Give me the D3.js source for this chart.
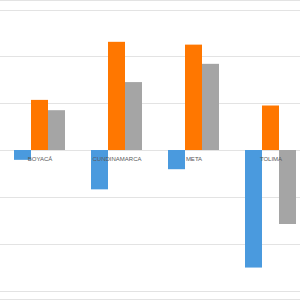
<!DOCTYPE html>
<html>
<head>
<meta charset="utf-8">
<script src="https://cdn.jsdelivr.net/npm/d3@7"></script>
<style>
  body { margin: 0; background: #fff; }
  svg { display: block; }
</style>
</head>
<body>
<div id="container"></div>
<script>
// data
let categories = ["BOYACÁ", "CUNDINAMARCA", "META", "TOLIMA"];
let seriesNames = ["serie1", "serie2", "serie3"];
let serie1 = [-2.1, -8.4, -4.1, -25.1];
let serie2 = [10.7, 23.1, 22.5, 9.5];
let serie3 = [8.5, 14.5, 18.4, -15.8];
let yTicks = [-30, -20, -10, 0, 10, 20, 30];

let colors = ["#4a9ade", "#ff7700", "#a5a5a5"];

let width = 300, height = 300;

let svg = d3.select('#container')
            .append('svg')
            .attr("width", width)
            .attr("height", height);

let x0 = d3.scaleBand()
           .domain(categories)
           .range([1, 309])
           .paddingInner(26 / 77)
           .paddingOuter(13 / 77);

let x1 = d3.scaleBand()
           .domain(seriesNames)
           .range([0, x0.bandwidth()]);

let y = d3.scaleLinear()
          .domain([-30, 30])
          .range([290.5, 9.5]);

// frame lines top and bottom
svg.selectAll('line.frame')
   .data([0.5, 299.5])
   .enter()
   .append('line')
   .attr('class', 'frame')
   .attr('x1', 0).attr('x2', width)
   .attr('y1', d => d).attr('y2', d => d)
   .attr('stroke', '#e3e3e3')
   .attr('stroke-width', 1);

// gridlines
svg.selectAll('line.grid')
   .data(yTicks)
   .enter()
   .append('line')
   .attr('class', 'grid')
   .attr('x1', 0).attr('x2', width)
   .attr('y1', d => Math.round(y(d)) + 0.5)
   .attr('y2', d => Math.round(y(d)) + 0.5)
   .attr('stroke', '#e3e3e3')
   .attr('stroke-width', 1);

let rows = categories.map((c, i) => ({
    cat: c,
    vals: [serie1[i], serie2[i], serie3[i]]
}));

let groups = svg.selectAll('g.cat')
                .data(rows)
                .enter()
                .append('g')
                .attr('class', 'cat')
                .attr('transform', d => `translate(${x0(d.cat)},0)`);

groups.selectAll('rect')
      .data(d => d.vals.map((v, j) => ({ name: seriesNames[j], v: v, j: j })))
      .enter()
      .append('rect')
      .attr('x', d => x1(d.name))
      .attr('width', x1.bandwidth())
      .attr('y', d => Math.min(y(d.v), y(0)))
      .attr('height', d => Math.abs(y(d.v) - y(0)))
      .attr('fill', d => colors[d.j]);

// category labels just under the zero line
svg.selectAll('text.cat')
   .data(categories)
   .enter()
   .append('text')
   .attr('class', 'cat')
   .attr('x', d => x0(d) + x0.bandwidth() / 2 + 0.5)
   .attr('y', y(0) + 10.8)
   .attr('text-anchor', 'middle')
   .attr('font-family', 'Liberation Sans, Arial, sans-serif')
   .attr('font-size', '6px')
   .attr('fill', '#595959')
   .text(d => d);
</script>
</body>
</html>
